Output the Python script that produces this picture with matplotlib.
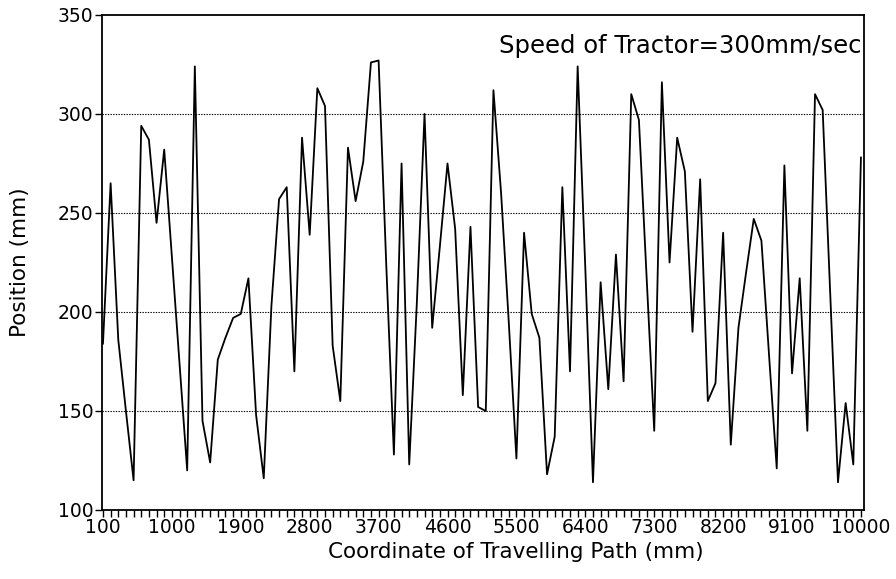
import matplotlib
matplotlib.use("Agg")
import matplotlib.pyplot as plt
import numpy as np

plt.rcParams['font.family'] = ['DejaVu Sans']

coordinate_mm = list(range(100, 10001, 100))
position_mm = [
    184, 265, 186, 150, 115, 294, 287, 245, 282, 228,
    174, 120, 324, 145, 124, 176, 187, 197, 199, 217,
    148, 116, 203, 257, 263, 170, 288, 239, 313, 304,
    183, 155, 283, 256, 276, 326, 327, 224, 128, 275,
    123, 205, 300, 192, 233, 275, 242, 158, 243, 152,
    150, 312, 260, 195, 126, 240, 199, 187, 118, 137,
    263, 170, 324, 222, 114, 215, 161, 229, 165, 310,
    297, 218, 140, 316, 225, 288, 271, 190, 267, 155,
    164, 240, 133, 192, 220, 247, 236, 178, 121, 274,
    169, 217, 140, 310, 302, 208, 114, 154, 123, 278,
]
x_tick_labels = ["100", "1000", "1900", "2800", "3700", "4600", "5500",
                 "6400", "7300", "8200", "9100", "10000"]
x_tick_values = [int(s) for s in x_tick_labels]
y_ticks = [100, 150, 200, 250, 300, 350]
annotation = "Speed of Tractor=300mm/sec"

fig = plt.figure(figsize=(8.96, 5.79), dpi=100)
ax = fig.add_axes([0.1138, 0.1192, 0.8505, 0.855])

ax.plot(coordinate_mm, position_mm, color='black', linewidth=1.3)

ax.set_xlim(87, 10040)
ax.set_ylim(100, 350)
ax.set_xticks(x_tick_values)
ax.set_xticklabels(x_tick_labels)
ax.set_xticks(coordinate_mm, minor=True)
ax.set_yticks(y_ticks)

for g in y_ticks[1:-1]:
    ax.axhline(g, color='black', linestyle=(0, (1.2, 1.2)), linewidth=0.8, zorder=0)

ax.tick_params(axis='x', which='both', direction='out', length=5, width=1, labelsize=13.5, pad=1)
ax.tick_params(axis='y', which='major', direction='out', length=5, width=1, labelsize=13.5, pad=1)
for s in ax.spines.values():
    s.set_linewidth(1.3)

ax.set_xlabel("Coordinate of Travelling Path (mm)", fontsize=15.5, labelpad=7)
ax.xaxis.set_label_coords(0.543, -0.065)
ax.set_ylabel("Position (mm)", fontsize=15.5, labelpad=20)

ax.text(0.997, 0.937, annotation, transform=ax.transAxes, ha='right', va='center', fontsize=17.5)

fig.savefig("out.png", dpi=100)
